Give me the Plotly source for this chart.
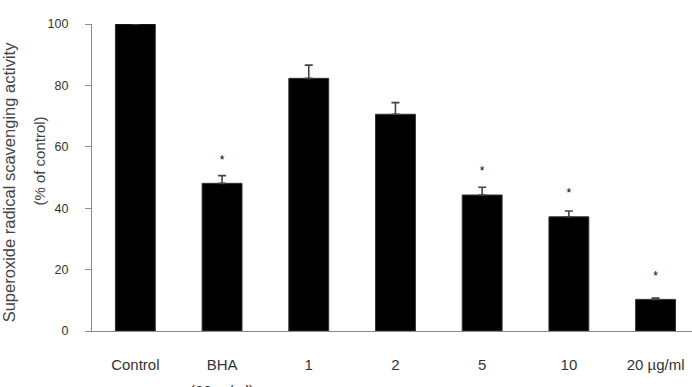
import plotly.graph_objects as go

categories = ["Control", "BHA", "1", "2", "5", "10", "20 µg/ml"]
means = [100, 48.1, 82.3, 70.6, 44.3, 37.2, 10.3]
errors = [0, 2.5, 4.3, 3.8, 2.5, 1.9, 0.4]
star_y = [None, 55.4, None, None, 51.9, 44.5, 17.5]
y_ticks = [0, 20, 40, 60, 80, 100]

fig = go.Figure()
fig.add_trace(go.Bar(
    x=categories, y=means, width=0.46,
    marker=dict(color="black", line=dict(color="#333", width=1)),
    error_y=dict(type="data", array=errors, arrayminus=[0] * len(errors), symmetric=False,
                 color="#444", thickness=1.6, width=4),
    showlegend=False,
))
fig.add_trace(go.Scatter(
    x=categories, y=star_y, mode="text", text=["*" if v is not None else "" for v in star_y],
    textposition="middle center", textfont=dict(size=12, color="black", family="Liberation Sans"),
    showlegend=False, cliponaxis=False,
))

fig.update_layout(
    width=692, height=387,
    margin=dict(l=92, r=0, t=24, b=56),
    paper_bgcolor="white", plot_bgcolor="white",
    font=dict(family="Liberation Sans, Arial", color="#333"),
    xaxis=dict(range=[-0.5, 6.42], showline=True, linecolor="#8a8a8a", linewidth=1.3,
               ticks="", tickfont=dict(size=15, color="#333"), ticklabelstandoff=20,
               showgrid=False, zeroline=False),
    yaxis=dict(range=[0, 100], tickvals=y_ticks, showline=True, linecolor="#8a8a8a", linewidth=1.3,
               ticks="outside", ticklen=6, tickcolor="#8a8a8a", tickwidth=1.3,
               tickfont=dict(size=12.5, color="#333"), ticklabelstandoff=14,
               showgrid=False, zeroline=False),
    annotations=[
        dict(text="Superoxide radical scavenging activity", textangle=-90, xref="paper", yref="paper",
             x=-0.139, y=0.483, xanchor="center", yanchor="middle", showarrow=False,
             font=dict(size=16.5, color="#444")),
        dict(text="(% of control)", textangle=-90, xref="paper", yref="paper",
             x=-0.0867, y=0.555, xanchor="center", yanchor="middle", showarrow=False,
             font=dict(size=15, color="#444")),
        dict(text="(32µg/ml)", xref="x", yref="paper", x="BHA", y=-0.195,
             xanchor="center", yanchor="middle", showarrow=False,
             font=dict(size=15, color="#333")),
    ],
)
fig.write_html("out.html")
